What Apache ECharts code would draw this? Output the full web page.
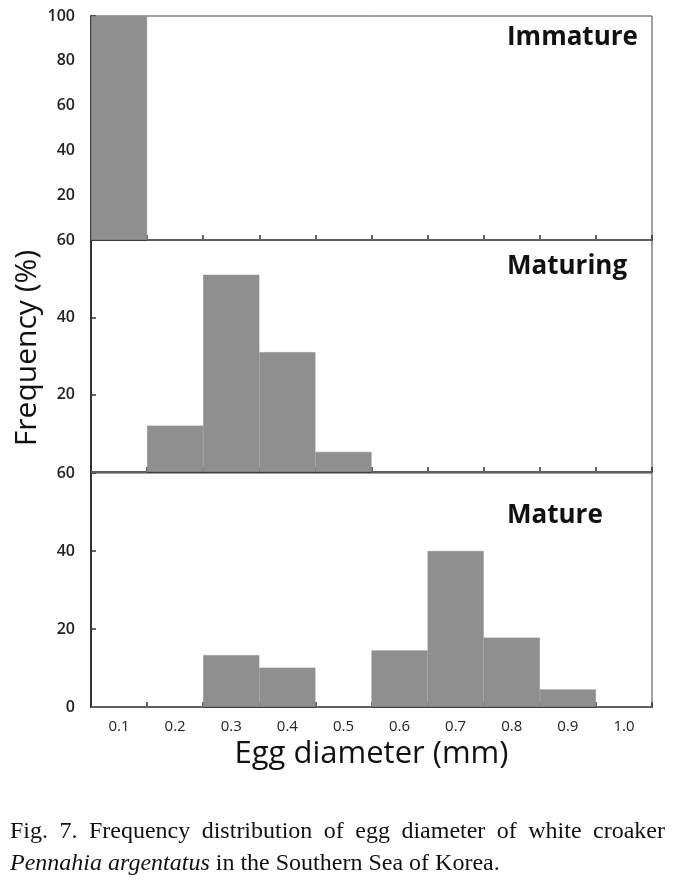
<!DOCTYPE html>
<html>
<head>
<meta charset="utf-8">
<script src="https://cdn.jsdelivr.net/npm/echarts@6/dist/echarts.min.js"></script>
<style>html,body{margin:0;padding:0;background:#fff}#c{width:675px;height:884px}</style>
</head>
<body>
<div id="c"></div>
<script>
const categories = ['0.1','0.2','0.3','0.4','0.5','0.6','0.7','0.8','0.9','1.0'];
const immature = [100, 0, 0, 0, 0, 0, 0, 0, 0, 0];
const maturing = [0, 12, 51, 31, 5.2, 0, 0, 0, 0, 0];
const mature = [0, 0, 13.3, 10.1, 0, 14.5, 40, 17.8, 4.5, 0];
const panelNames = ['Immature', 'Maturing', 'Mature'];
const yMax = [100, 60, 60];
const yTitle = 'Frequency (%)';
const xTitle = 'Egg diameter (mm)';
const captionLine1 = 'Fig. 7. Frequency distribution of egg diameter of white croaker';
const captionItalic = 'Pennahia argentatus';
const captionRest = ' in the Southern Sea of Korea.';

const FONT = '"Open Sans", "Noto Sans", sans-serif';
const grids = [
  {left: 91, right: 23, top: 16, height: 224},
  {left: 91, right: 23, top: 240, height: 232},
  {left: 91, right: 23, top: 473, height: 234}
];
const seriesData = [immature, maturing, mature];

const xAxes = grids.map((g, i) => ({
  type: 'category', gridIndex: i, data: categories,
  axisLine: {lineStyle: {color: '#333', width: 2}},
  axisTick: {show: true, inside: true, length: 5, lineStyle: {color: '#333', width: 1.5}},
  axisLabel: {show: i === 2, color: '#222', fontFamily: FONT, fontSize: 15, margin: 12},
  name: i === 2 ? xTitle : '', nameLocation: 'middle', nameGap: 32,
  nameTextStyle: {fontFamily: FONT, fontSize: 31, color: '#111'}
}));
const yAxes = grids.map((g, i) => ({
  type: 'value', gridIndex: i, min: 0, max: yMax[i], interval: 20,
  splitLine: {show: false},
  axisLine: {show: true, lineStyle: {color: '#333', width: 2}},
  axisTick: {show: true, inside: true, length: 5, lineStyle: {color: '#333', width: 1.5}},
  axisLabel: {color: '#222', fontFamily: FONT, fontSize: 16, fontWeight: 600, margin: 16, showMinLabel: i === 2}
}));
const series = seriesData.map((d, i) => ({
  type: 'bar', xAxisIndex: i, yAxisIndex: i, data: d,
  barCategoryGap: '0%', itemStyle: {color: '#8f8f8f', borderColor: '#8f8f8f', borderWidth: 0.6}, silent: true
}));

// caption line 1 justified: measure words
const ctx = document.createElement('canvas').getContext('2d');
const capFont = '24px "Liberation Serif", "Times New Roman", serif';
ctx.font = capFont;
const words = captionLine1.split(' ');
const widths = words.map(w => ctx.measureText(w).width);
const capLeft = 10, capRight = 665;
const gap = (capRight - capLeft - widths.reduce((a, b) => a + b, 0)) / (words.length - 1);
const capElems = [];
let cx = capLeft;
words.forEach((w, k) => {
  capElems.push({type: 'text', x: cx, y: 832, style: {text: w, font: capFont, fill: '#111', textVerticalAlign: 'middle'}});
  cx += widths[k] + gap;
});

const graphic = [
  {type: 'text', x: 27, y: 348, rotation: Math.PI / 2,
   style: {text: yTitle, font: '30px ' + FONT, fill: '#111', textAlign: 'center', textVerticalAlign: 'middle'}},
  {type: 'text', x: 507, y: 38, style: {text: panelNames[0], font: 'bold 26px ' + FONT, fill: '#111', textVerticalAlign: 'middle'}},
  {type: 'text', x: 507, y: 267, style: {text: panelNames[1], font: 'bold 26px ' + FONT, fill: '#111', textVerticalAlign: 'middle'}},
  {type: 'text', x: 507, y: 516, style: {text: panelNames[2], font: 'bold 26px ' + FONT, fill: '#111', textVerticalAlign: 'middle'}},
  {type: 'text', x: 10, y: 864, style: {
    text: '{i|' + captionItalic + '}{r|' + captionRest + '}',
    textVerticalAlign: 'middle',
    rich: {
      i: {font: 'italic 24px "Liberation Serif", serif', fill: '#111'},
      r: {font: '24px "Liberation Serif", serif', fill: '#111'}
    }
  }}
].concat(capElems);

const chart = echarts.init(document.getElementById('c'), null, {renderer: 'canvas'});
chart.setOption({
  animation: false,
  backgroundColor: '#fff',
  grid: grids.map(g => Object.assign({show: true, borderColor: '#444', borderWidth: 1}, g)),
  xAxis: xAxes,
  yAxis: yAxes,
  series: series,
  graphic: graphic
});
</script>
</body>
</html>
